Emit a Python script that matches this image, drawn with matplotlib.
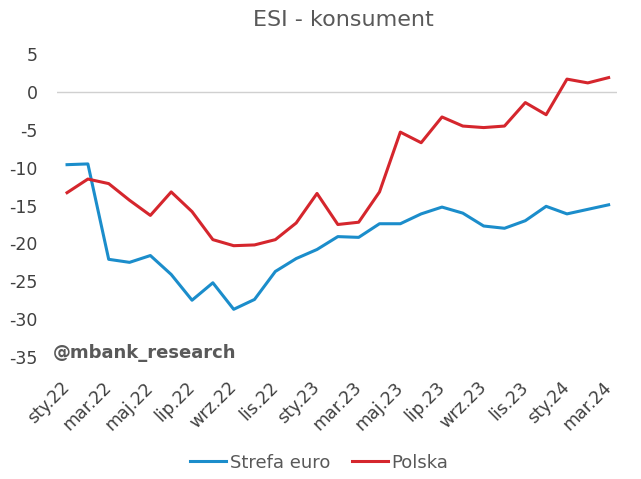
import matplotlib
matplotlib.use("Agg")
import matplotlib.pyplot as plt
import numpy as np

months = ["sty.22", "lut.22", "mar.22", "kwi.22", "maj.22", "cze.22", "lip.22", "sie.22",
          "wrz.22", "paź.22", "lis.22", "gru.22",
          "sty.23", "lut.23", "mar.23", "kwi.23", "maj.23", "cze.23", "lip.23", "sie.23",
          "wrz.23", "paź.23", "lis.23", "gru.23",
          "sty.24", "lut.24", "mar.24"]

strefa_euro = [-9.6, -9.5, -22.1, -22.5, -21.6, -24.1, -27.5, -25.2, -28.7, -27.4, -23.7, -22.0,
               -20.8, -19.1, -19.2, -17.4, -17.4, -16.1, -15.2, -16.0, -17.7, -18.0, -17.0, -15.1,
               -16.1, -15.5, -14.9]

polska = [-13.3, -11.5, -12.1, -14.3, -16.3, -13.2, -15.8, -19.5, -20.3, -20.2, -19.5, -17.3,
          -13.4, -17.5, -17.2, -13.2, -5.3, -6.7, -3.3, -4.5, -4.7, -4.5, -1.4, -3.0,
          1.7, 1.2, 1.9]

yticks = [5, 0, -5, -10, -15, -20, -25, -30, -35]

fig = plt.figure(figsize=(6.41, 4.79), dpi=100)
ax = fig.add_axes([0.089, 0.2547, 0.8735, 0.6323])

x = np.arange(len(months))
ax.plot(x, strefa_euro, color="#1b8dcb", lw=2.2, label="Strefa euro", solid_joinstyle="round")
ax.plot(x, polska, color="#d5262d", lw=2.2, label="Polska", solid_joinstyle="round")

ax.axhline(0, color="#d0d0d0", lw=1.0, zorder=0)

ax.set_xlim(-0.48, 26.4)
ax.set_ylim(-35, 5)
ax.set_yticks(yticks)
ax.set_yticklabels([str(v) for v in yticks])
ax.set_xticks(x[::2])
ax.set_xticklabels(months[::2], rotation=45, ha="right", va="center", rotation_mode="anchor")

for s in ax.spines.values():
    s.set_visible(False)
ax.tick_params(axis="both", length=0, labelsize=12.5, colors="#404040")
ax.tick_params(axis="y", pad=14)
ax.tick_params(axis="x", pad=20)

fig.text(0.536, 0.958, "ESI - konsument", ha="center", va="center", fontsize=16, color="#595959")
fig.text(0.083, 1 - 352.5 / 479, "@mbank_research", ha="left", va="center",
         fontsize=13, fontweight="bold", color="#595959")

leg = fig.legend(loc="center", bbox_to_anchor=(0.498, 1 - 462.5 / 479), ncol=2, frameon=False,
                 fontsize=13, handlelength=2.0, handletextpad=0.2, columnspacing=1.2)
for t in leg.get_texts():
    t.set_color("#595959")

fig.savefig("out.png", dpi=100, facecolor="white")
